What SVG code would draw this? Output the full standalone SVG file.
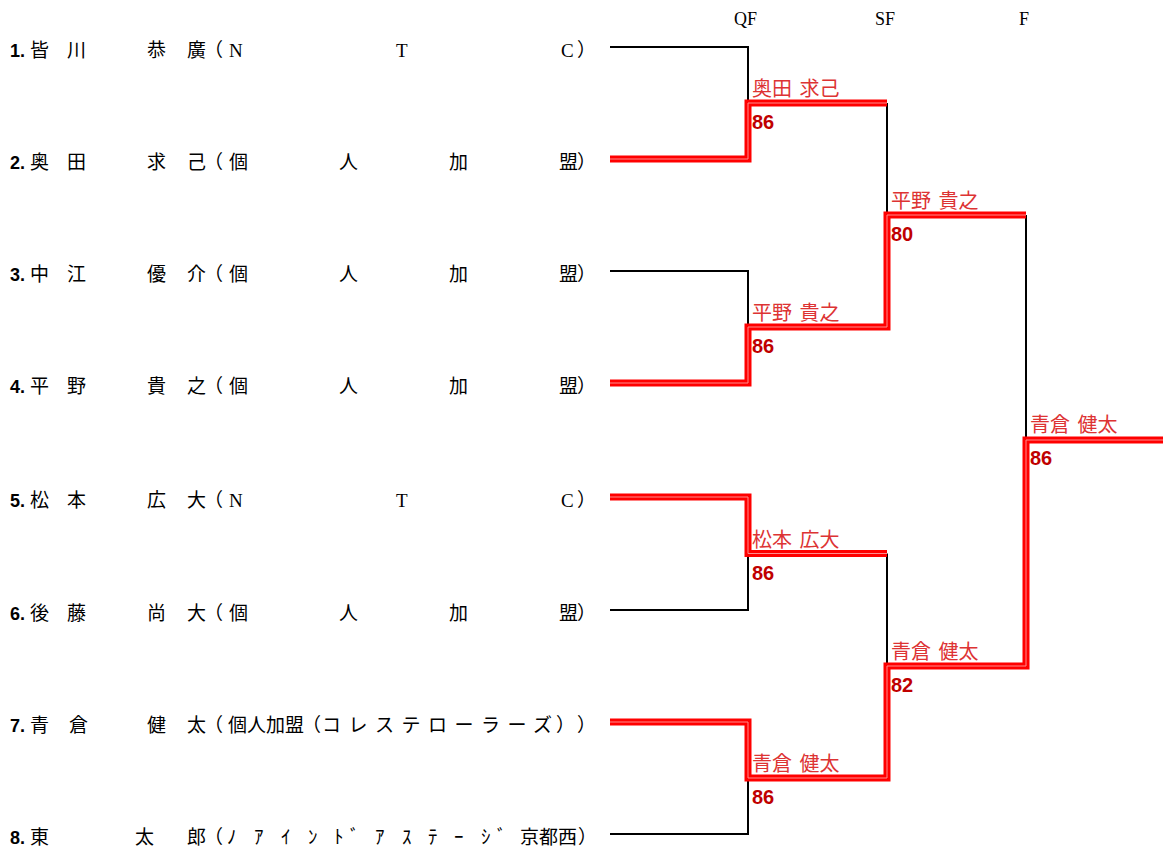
<svg xmlns="http://www.w3.org/2000/svg" width="1163" height="856" viewBox="0 0 1163 856">
<style>
.n{font-family:"Liberation Sans",Arial,sans-serif;font-weight:bold;font-size:18px;fill:#000}
.t{font-family:"Liberation Serif","Noto Sans CJK JP",serif;font-size:19px;fill:#000}
.h{font-family:"Liberation Serif",serif;font-size:18px;fill:#000}
.w{font-family:"Noto Sans CJK JP",sans-serif;font-size:20px;fill:#dd3333}
.s{font-family:"Liberation Sans",Arial,sans-serif;font-weight:bold;font-size:20px;fill:#c00000}
.bk{fill:none;stroke:#000;stroke-width:2}
.rd{fill:none;stroke:#ff0000;stroke-width:7}
.ri{fill:none;stroke:#ff8c8c;stroke-width:1}
</style>
<rect width="1163" height="856" fill="#fff"/>
<g id="headers">
<text class="h" x="734" y="25">QF</text>
<text class="h" x="875" y="25">SF</text>
<text class="h" x="1019" y="25">F</text>
</g>
<g id="connectors">
<path class="bk" d="M610,47 H748 V103 M610,271 H748 V327 M610,610 H748 V553.5 M610,834 H748 V778 M887,103 V215 M887,553.5 V666 M1026,215 V440"/>
<path class="rd" d="M610,159 H748 V103 H887 M610,383 H748 V327 H887 V215 H1026 M610,497 H748 V553.5 H887 M610,722 H748 V778 H887 V666 H1026 V440 H1163"/>
<path class="ri" d="M610,159 H748 V103 H887 M610,383 H748 V327 H887 V215 H1026 M610,497 H748 V553.5 H887 M610,722 H748 V778 H887 V666 H1026 V440 H1163"/>
</g>
<g id="p1">
<text class="n" x="10" y="57">1.</text>
<text class="t" y="57"><tspan x="30">皆</tspan><tspan x="67">川</tspan><tspan x="147">恭</tspan><tspan x="187">廣</tspan><tspan x="204">（</tspan><tspan x="229">N</tspan><tspan x="396">T</tspan><tspan x="561">C</tspan><tspan x="577">）</tspan></text>
</g>
<g id="p2">
<text class="n" x="10" y="169">2.</text>
<text class="t" y="169"><tspan x="30">奥</tspan><tspan x="67">田</tspan><tspan x="147">求</tspan><tspan x="187">己</tspan><tspan x="204">（</tspan><tspan x="229">個</tspan><tspan x="339">人</tspan><tspan x="449">加</tspan><tspan x="559">盟</tspan><tspan x="577">）</tspan></text>
</g>
<g id="p3">
<text class="n" x="10" y="281">3.</text>
<text class="t" y="281"><tspan x="30">中</tspan><tspan x="67">江</tspan><tspan x="147">優</tspan><tspan x="187">介</tspan><tspan x="204">（</tspan><tspan x="229">個</tspan><tspan x="339">人</tspan><tspan x="449">加</tspan><tspan x="559">盟</tspan><tspan x="577">）</tspan></text>
</g>
<g id="p4">
<text class="n" x="10" y="393">4.</text>
<text class="t" y="393"><tspan x="30">平</tspan><tspan x="67">野</tspan><tspan x="147">貴</tspan><tspan x="187">之</tspan><tspan x="204">（</tspan><tspan x="229">個</tspan><tspan x="339">人</tspan><tspan x="449">加</tspan><tspan x="559">盟</tspan><tspan x="577">）</tspan></text>
</g>
<g id="p5">
<text class="n" x="10" y="507">5.</text>
<text class="t" y="507"><tspan x="30">松</tspan><tspan x="67">本</tspan><tspan x="147">広</tspan><tspan x="187">大</tspan><tspan x="204">（</tspan><tspan x="229">N</tspan><tspan x="396">T</tspan><tspan x="561">C</tspan><tspan x="577">）</tspan></text>
</g>
<g id="p6">
<text class="n" x="10" y="620">6.</text>
<text class="t" y="620"><tspan x="30">後</tspan><tspan x="67">藤</tspan><tspan x="147">尚</tspan><tspan x="187">大</tspan><tspan x="204">（</tspan><tspan x="229">個</tspan><tspan x="339">人</tspan><tspan x="449">加</tspan><tspan x="559">盟</tspan><tspan x="577">）</tspan></text>
</g>
<g id="p7">
<text class="n" x="10" y="732">7.</text>
<text class="t" y="732"><tspan x="30">青</tspan><tspan x="69">倉</tspan><tspan x="147">健</tspan><tspan x="187">太</tspan><tspan x="204">（</tspan><tspan x="228">個人加盟</tspan><tspan x="302">（</tspan><tspan x="322" textLength="230" lengthAdjust="spacing">コレステローラーズ</tspan><tspan x="556">）</tspan><tspan x="577">）</tspan></text>
</g>
<g id="p8">
<text class="n" x="10" y="844">8.</text>
<text class="t" y="844"><tspan x="30">東</tspan><tspan x="135">太</tspan><tspan x="187">郎</tspan><tspan x="204">（</tspan><tspan x="227">ﾉ</tspan><tspan x="254">ｱ</tspan><tspan x="281">ｲ</tspan><tspan x="308">ﾝ</tspan><tspan x="334">ﾄ</tspan><tspan x="350">ﾞ</tspan><tspan x="375">ｱ</tspan><tspan x="402">ｽ</tspan><tspan x="428">ﾃ</tspan><tspan x="454">ｰ</tspan><tspan x="481">ｼ</tspan><tspan x="497">ﾞ</tspan><tspan x="520">京都西</tspan><tspan x="578">）</tspan></text>
</g>
<g id="qf1"><text class="w" x="752" y="96">奥田<tspan dx="3"> 求己</tspan></text><text class="s" x="752" y="129">86</text></g>
<g id="qf2"><text class="w" x="752" y="320">平野<tspan dx="3"> 貴之</tspan></text><text class="s" x="752" y="353">86</text></g>
<g id="qf3"><text class="w" x="752" y="547">松本<tspan dx="3"> 広大</tspan></text><text class="s" x="752" y="580">86</text></g>
<g id="qf4"><text class="w" x="752" y="771">青倉<tspan dx="3"> 健太</tspan></text><text class="s" x="752" y="804">86</text></g>
<g id="sf1"><text class="w" x="891" y="208">平野<tspan dx="3"> 貴之</tspan></text><text class="s" x="891" y="241">80</text></g>
<g id="sf2"><text class="w" x="891" y="659">青倉<tspan dx="3"> 健太</tspan></text><text class="s" x="891" y="692">82</text></g>
<g id="f1"><text class="w" x="1030" y="432">青倉<tspan dx="3"> 健太</tspan></text><text class="s" x="1030" y="465">86</text></g>
</svg>
